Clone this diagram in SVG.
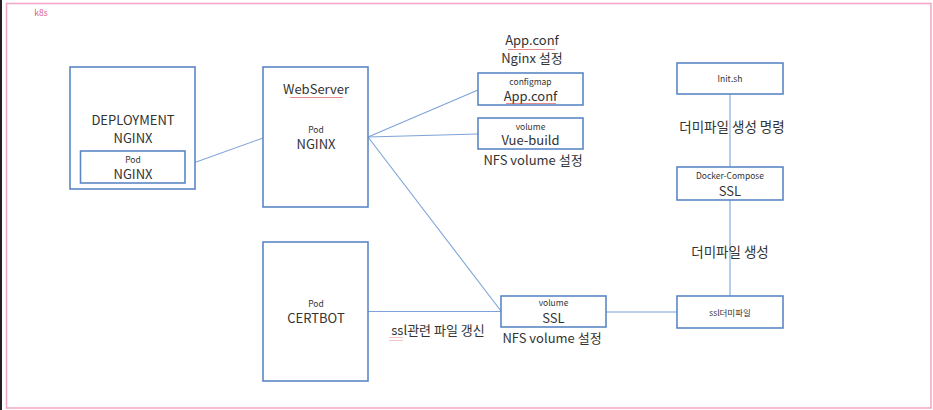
<svg xmlns="http://www.w3.org/2000/svg" width="933" height="410" viewBox="0 0 933 410">
<style>
  .box { fill: #ffffff; stroke: #5b87c5; stroke-width: 1.6; }
  .ln { fill: none; stroke: #7ea3d8; stroke-width: 1.1; }
  .t { font-family: "Noto Sans CJK KR", "Noto Sans", sans-serif; fill: #333333; text-anchor: middle; }
  .big { font-size: 13px; }
  .sm { font-size: 8.5px; }
  .ko { font-size: 13px; }
</style>
<defs>
  <pattern id="wave" width="4" height="3" patternUnits="userSpaceOnUse">
    <path d="M0 2 L1 1 L2 2 L3 1 L4 2" fill="none" stroke="#d83a3a" stroke-width="0.6"/>
  </pattern>
</defs>
<rect x="0" y="0" width="933" height="410" fill="#ffffff"/>
<rect x="0" y="0" width="2" height="410" fill="#222222"/>
<rect id="k8s-frame" x="6.5" y="3.5" width="924.5" height="404.5" fill="none" stroke="#f2a5c4" stroke-width="1.5"/>
<text class="t" x="41" y="16" style="font-size:8.5px;fill:#d9558f">k8s</text>

<g id="connectors">
  <line class="ln" x1="185" y1="166" x2="263" y2="138"/>
  <line class="ln" x1="368" y1="137" x2="478" y2="90"/>
  <line class="ln" x1="368" y1="137" x2="478" y2="134"/>
  <line class="ln" x1="368" y1="137" x2="501" y2="311"/>
  <line class="ln" x1="368" y1="311.5" x2="501" y2="311.5"/>
  <line class="ln" x1="606" y1="312" x2="677" y2="312"/>
  <line class="ln" x1="730" y1="94" x2="730" y2="167"/>
  <line class="ln" x1="730" y1="200" x2="730" y2="296"/>
</g>

<g id="deployment">
  <rect class="box" x="70" y="67" width="125" height="122"/>
  <text class="t big" x="133" y="125">DEPLOYMENT</text>
  <text class="t big" x="133" y="143">NGINX</text>
</g>
<g id="deployment-pod">
  <rect class="box" x="80.5" y="151" width="104.5" height="32"/>
  <text class="t sm" x="133" y="163">Pod</text>
  <text class="t big" x="133" y="178.5">NGINX</text>
</g>

<g id="webserver">
  <rect class="box" x="263" y="67" width="105" height="140"/>
  <text class="t big" x="316" y="94">WebServer</text>
  <rect x="290" y="96" width="53" height="3" fill="url(#wave)"/>
  <text class="t sm" x="316" y="133">Pod</text>
  <text class="t big" x="316" y="148.5">NGINX</text>
</g>

<g id="appconf-label">
  <text class="t big" x="532" y="45">App.conf</text>
  <rect x="508" y="47.5" width="47" height="2.5" fill="url(#wave)"/>
  <text class="t ko" x="532" y="63">Nginx 설정</text>
</g>
<g id="configmap">
  <rect class="box" x="478" y="73" width="105" height="32"/>
  <text class="t sm" x="530.5" y="84.5">configmap</text>
  <text class="t big" x="530.5" y="100.5">App.conf</text>
  <rect x="506" y="102" width="50" height="3" fill="url(#wave)"/>
</g>
<g id="vue-build">
  <rect class="box" x="478" y="118" width="105" height="31"/>
  <text class="t sm" x="530.5" y="129.5">volume</text>
  <text class="t big" x="530.5" y="145">Vue-build</text>
  <text class="t ko" x="533" y="164.5">NFS volume 설정</text>
</g>

<g id="certbot">
  <rect class="box" x="263" y="242" width="105" height="139"/>
  <text class="t sm" x="316" y="306.5">Pod</text>
  <text class="t big" x="316" y="322.5">CERTBOT</text>
</g>
<text class="t ko" x="438" y="335">ssl관련 파일 갱신</text>
<rect x="389" y="337.5" width="14" height="3" fill="url(#wave)"/>

<g id="ssl-volume">
  <rect class="box" x="501" y="296" width="105" height="31"/>
  <text class="t sm" x="553.5" y="306">volume</text>
  <text class="t big" x="553.5" y="323">SSL</text>
  <text class="t ko" x="552" y="343">NFS volume 설정</text>
</g>

<g id="init-sh">
  <rect class="box" x="677" y="63" width="106" height="31"/>
  <text class="t sm" x="730" y="82">Init.sh</text>
</g>
<text class="t ko" x="732" y="132" style="font-size:13.5px">더미파일 생성 명령</text>

<g id="docker-compose">
  <rect class="box" x="677" y="167" width="106" height="33"/>
  <text class="t sm" x="730" y="178.5">Docker-Compose</text>
  <text class="t big" x="730" y="196">SSL</text>
</g>
<text class="t ko" x="730" y="257" style="font-size:13.5px">더미파일 생성</text>

<g id="ssl-dummy">
  <rect class="box" x="677" y="296" width="106" height="32"/>
  <text class="t sm" x="730" y="315.5">ssl더미파일</text>
</g>
</svg>
